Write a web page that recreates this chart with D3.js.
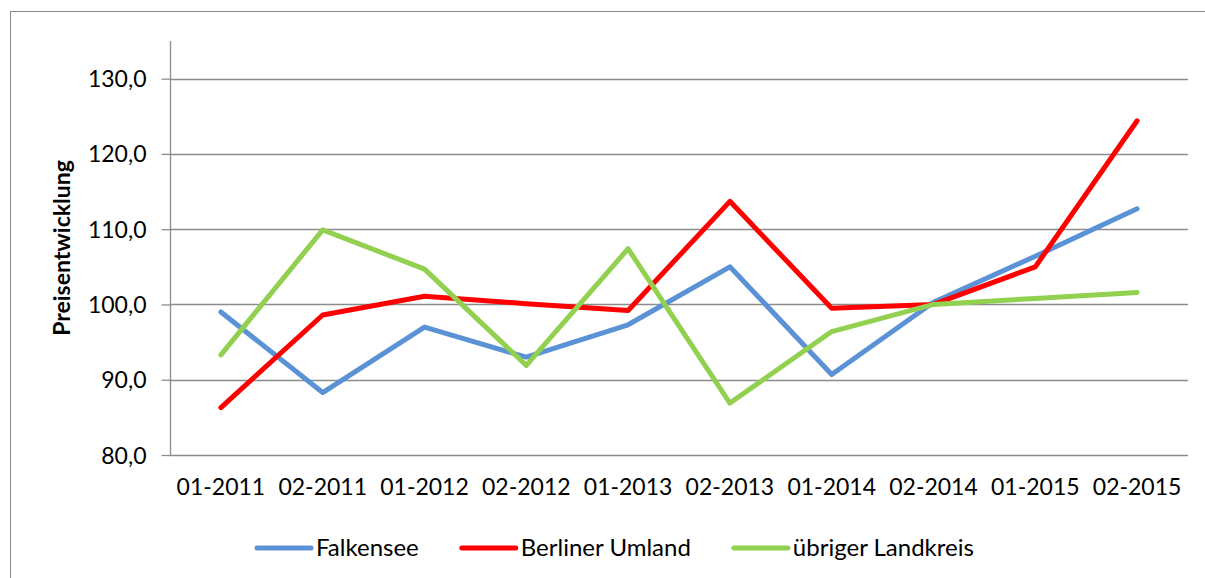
<!DOCTYPE html>
<html>
<head>
<meta charset="utf-8">
<script src="https://cdn.jsdelivr.net/npm/d3@7"></script>
<style>
  body { margin: 0; background: #fff; }
  text { font-family: Lato, "Open Sans", sans-serif; fill: #000; }
</style>
</head>
<body>
<div id="container"></div>
<script>
const width = 1205;
const height = 578;

const periods = ['01-2011', '02-2011', '01-2012', '02-2012', '01-2013', '02-2013', '01-2014', '02-2014', '01-2015', '02-2015'];
const falkensee = [99.0, 88.3, 97.0, 93.0, 97.3, 105.0, 90.7, 100.3, 106.4, 112.7];
const berlinerUmland = [86.3, 98.6, 101.1, 100.1, 99.2, 113.7, 99.5, 100.0, 105.0, 124.4];
const uebrigerLandkreis = [93.3, 109.9, 104.7, 91.9, 107.4, 86.9, 96.4, 100.0, 100.8, 101.6];
const yTicks = [80, 90, 100, 110, 120, 130];

const series = [
  { name: 'Falkensee', values: falkensee, color: '#5B92D6' },
  { name: 'Berliner Umland', values: berlinerUmland, color: '#FF0000' },
  { name: 'übriger Landkreis', values: uebrigerLandkreis, color: '#92D050' }
];

const margin = { top: 41, right: 17, bottom: 123, left: 170 };

const svg = d3.select('#container')
  .append('svg')
  .attr('width', width)
  .attr('height', height);

// chart frame
svg.append('rect')
  .attr('x', 10.5)
  .attr('y', 11.5)
  .attr('width', width + 20)
  .attr('height', height + 20)
  .attr('fill', 'none')
  .attr('stroke', '#898989')
  .attr('stroke-width', 1);

const x = d3.scaleBand()
  .domain(periods)
  .range([margin.left, width - margin.right]);

const y = d3.scaleLinear()
  .domain([80, 135])
  .range([height - margin.bottom, margin.top]);

// gridlines
svg.append('g')
  .selectAll('line')
  .data(yTicks.slice(1))
  .join('line')
  .attr('x1', margin.left)
  .attr('x2', width - margin.right)
  .attr('y1', d => Math.round(y(d)) + 0.5)
  .attr('y2', d => Math.round(y(d)) + 0.5)
  .attr('stroke', '#8c8c8c')
  .attr('stroke-width', 1.3);

// y axis
const yAxis = svg.append('g')
  .attr('transform', `translate(${margin.left + 0.5},0)`)
  .call(d3.axisLeft(y)
    .tickValues(yTicks)
    .tickSize(9)
    .tickPadding(15)
    .tickFormat(d => d3.format('.1f')(d).replace('.', ',')));
yAxis.select('.domain')
  .attr('d', `M0,${margin.top}V${height - margin.bottom}`);
yAxis.selectAll('line, .domain')
  .attr('stroke', '#8c8c8c')
  .attr('stroke-width', 1.3);
yAxis.selectAll('text')
  .attr('font-size', 23)
  .attr('font-family', 'Lato, sans-serif')
  .attr('dy', '0.35em');

// x axis baseline
svg.append('line')
  .attr('x1', margin.left)
  .attr('x2', width - margin.right)
  .attr('y1', Math.round(y(80)) + 0.5)
  .attr('y2', Math.round(y(80)) + 0.5)
  .attr('stroke', '#8c8c8c')
  .attr('stroke-width', 1.3);

const xAxis = svg.append('g')
  .attr('transform', `translate(0,${y(80)})`)
  .call(d3.axisBottom(x).tickSize(0).tickPadding(24));
xAxis.select('.domain').remove();
xAxis.selectAll('text')
  .attr('font-size', 23)
  .attr('font-family', 'Lato, sans-serif');

// y axis title
svg.append('text')
  .attr('transform', `translate(70,${(margin.top + height - margin.bottom) / 2}) rotate(-90)`)
  .attr('text-anchor', 'middle')
  .attr('font-size', 23)
  .attr('font-weight', 'bold')
  .text('Preisentwicklung');

// lines
const line = d3.line()
  .x((d, i) => x(periods[i]) + x.bandwidth() / 2)
  .y(d => y(d));

svg.append('g')
  .selectAll('path')
  .data(series)
  .join('path')
  .attr('d', d => line(d.values))
  .attr('fill', 'none')
  .attr('stroke', d => d.color)
  .attr('stroke-width', 5)
  .attr('stroke-linejoin', 'round')
  .attr('stroke-linecap', 'round');

// legend
const legend = svg.append('g')
  .attr('transform', 'translate(257,548)');

let lx = 0;
series.forEach(s => {
  const item = legend.append('g').attr('transform', `translate(${lx},0)`);
  item.append('line')
    .attr('x1', 0)
    .attr('x2', 54)
    .attr('stroke', s.color)
    .attr('stroke-width', 5)
    .attr('stroke-linecap', 'round');
  const t = item.append('text')
    .attr('x', 59)
    .attr('dy', '0.35em')
    .attr('font-size', 24)
    .text(s.name);
  lx += 59 + t.node().getComputedTextLength() + 43;
});
</script>
</body>
</html>
